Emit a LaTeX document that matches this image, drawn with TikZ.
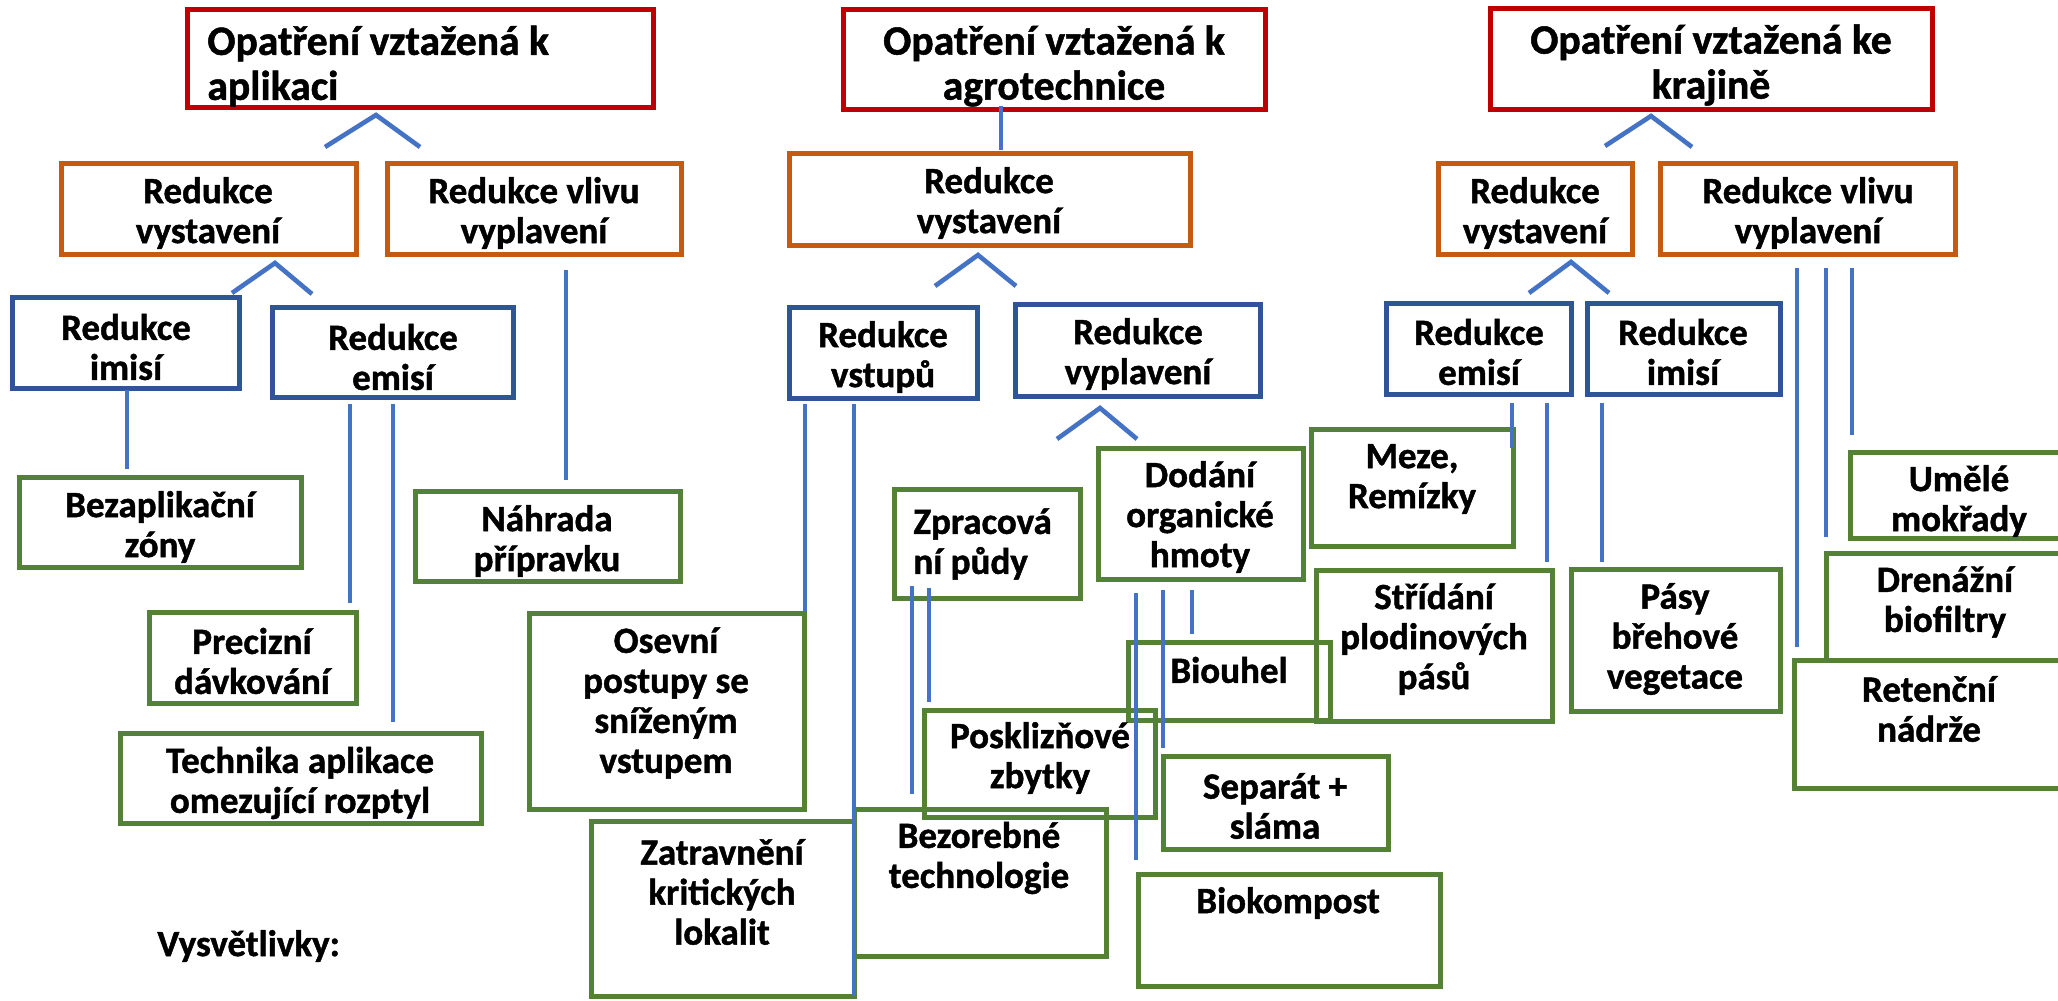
\documentclass[tikz,border=0pt]{standalone}
\usepackage{fontspec}
\setmainfont{Carlito}[BoldFeatures={FakeBold=1.2}]
\usetikzlibrary{fit}
\definecolor{cred}{HTML}{C00000}
\definecolor{corange}{HTML}{C55A11}
\definecolor{cblue}{HTML}{2F5597}
\definecolor{cline}{HTML}{4472C4}
\definecolor{cgreen}{HTML}{538135}
\begin{document}
\begin{tikzpicture}[x=0.5pt,y=-0.5pt,
  redbox/.style={draw=cred, line width=2.5pt, inner sep=0pt},
  orbox/.style={draw=corange, line width=2.5pt, inner sep=0pt},
  blbox/.style={draw=cblue, line width=2.5pt, inner sep=0pt},
  grbox/.style={draw=cgreen, line width=2.5pt, inner sep=0pt},
  txt/.style={align=center, font=\bfseries\fontsize{18.5}{20}\selectfont, inner sep=0pt},
  ttl/.style={align=center, font=\bfseries\fontsize{20.8}{22.5}\selectfont, inner sep=0pt},
  conn/.style={draw=cline, line width=2.3pt}]
\fill[white] (0,0) rectangle (2058,1001);
\useasboundingbox (0,0) rectangle (2058,1001);
\clip (0,0) rectangle (2058,1001);

% red boxes
\node[redbox, fit={(187,9) (653,107)}] (r1) {};
\node[redbox, fit={(843,9) (1265,109)}] (r2) {};
\node[redbox, fit={(1490,8) (1932,109)}] (r3) {};
\node[ttl, anchor=west, align=left] (r1t) at (207,66) {Opatření vztažená k\\aplikaci};
\node[ttl] (r2t) at (1054,66) {Opatření vztažená k\\agrotechnice};
\node[ttl] (r3t) at (1711,65) {Opatření vztažená ke\\krajině};

% orange boxes
\node[orbox, fit={(61,163) (356,254)}] (o1) {};
\node[orbox, fit={(387,163) (681,254)}] (o2) {};
\node[orbox, fit={(789,153) (1190,245)}] (o3) {};
\node[orbox, fit={(1438,163) (1632,254)}] (o4) {};
\node[orbox, fit={(1660,163) (1955,254)}] (o5) {};
\node[txt] (o1t) at (208,213) {Redukce\\vystavení};
\node[txt] (o2t) at (534,213) {Redukce vlivu\\vyplavení};
\node[txt] (o3t) at (989,203) {Redukce\\vystavení};
\node[txt] (o4t) at (1535,213) {Redukce\\vystavení};
\node[txt] (o5t) at (1808,213) {Redukce vlivu\\vyplavení};

% blue boxes
\node[blbox, fit={(12,297) (239,388)}] (b1) {};
\node[blbox, fit={(272,307) (513,397)}] (b2) {};
\node[blbox, fit={(789,307) (977,398)}] (b3) {};
\node[blbox, fit={(1015,304) (1260,396)}] (b4) {};
\node[blbox, fit={(1386,303) (1571,394)}] (b5) {};
\node[blbox, fit={(1587,303) (1780,394)}] (b6) {};
\node[txt] (b1t) at (126,347) {Redukce\\imisí};
\node[txt] (b2t) at (393,357) {Redukce\\emisí};
\node[txt] (b3t) at (883,357) {Redukce\\vstupů};
\node[txt] (b4t) at (1138,354) {Redukce\\vyplavení};
\node[txt] (b5t) at (1479,352) {Redukce\\emisí};
\node[txt] (b6t) at (1683,352) {Redukce\\imisí};

% green boxes
\node[grbox, fit={(19,477) (301,567)}] (bez) {};
\node[grbox, fit={(149,612) (356,703)}] (prec) {};
\node[grbox, fit={(120,733) (481,823)}] (tech) {};
\node[grbox, fit={(415,491) (680,581)}] (nah) {};
\node[grbox, fit={(529,613) (804,809)}] (osev) {};
\node[grbox, fit={(591,821) (854,996)}] (zatr) {};
\node[grbox, fit={(854,809) (1106,956)}] (bezor) {};
\node[grbox, fit={(894,489) (1080,598)}] (zprac) {};
\node[grbox, fit={(924,710) (1155,817)}] (posk) {};
\node[grbox, fit={(1098,448) (1303,579)}] (dod) {};
\node[grbox, fit={(1128,642) (1330,720)}] (biou) {};
\node[grbox, fit={(1163,756) (1388,849)}] (sep) {};
\node[grbox, fit={(1138,874) (1440,986)}] (biok) {};
\node[grbox, fit={(1311,429) (1513,546)}] (meze) {};
\node[grbox, fit={(1316,570) (1552,721)}] (strid) {};
\node[grbox, fit={(1571,569) (1780,711)}] (pasy) {};
\node[grbox, fit={(1850,452) (2068,538)}] (umele) {};
\node[grbox, fit={(1826,553) (2064,660)}] (dren) {};
\node[grbox, fit={(1794,660) (2064,788)}] (ret) {};

\node[txt] (bezt) at (160,527) {Bezaplikační\\zóny};
\node[txt] (prect) at (252,661) {Precizní\\dávkování};
\node[txt] (techt) at (300,783) {Technika aplikace\\omezující rozptyl};
\node[txt] (naht) at (547,541) {Náhrada\\přípravku};
\node[txt] (osevt) at (666,703) {Osevní\\postupy se\\sníženým\\vstupem};
\node[txt] (zatrt) at (722,892) {Zatravnění\\kritických\\lokalit};
\node[txt, anchor=west] (vys) at (157,946) {Vysvětlivky:};
\node[txt, anchor=west, align=left] (zpract) at (913,544) {Zpracová\\ní půdy};
\node[txt] (dodt) at (1200,517) {Dodání\\organické\\hmoty};
\node[txt] (biout) at (1229,670) {Biouhel};
\node[txt] (poskt) at (1040,758) {Posklizňové\\zbytky};
\node[txt] (bezort) at (979,858) {Bezorebné\\technologie};
\node[txt] (sept) at (1275,806) {Separát +\\sláma};
\node[txt] (biokt) at (1288,903) {Biokompost};
\node[txt] (mezet) at (1412,479) {Meze,\\Remízky};
\node[txt] (stridt) at (1434,639) {Střídání\\plodinových\\pásů};
\node[txt] (pasyt) at (1675,639) {Pásy\\břehové\\vegetace};
\node[txt] (umelet) at (1959,501) {Umělé\\mokřady};
\node[txt] (drent) at (1945,602) {Drenážní\\biofiltry};
\node[txt] (rett) at (1929,709) {Retenční\\nádrže};

% carets
\coordinate (k1a) at (325,147); \coordinate (k1b) at (376,115); \coordinate (k1c) at (420,147);
\coordinate (k2a) at (232,293); \coordinate (k2b) at (275,263); \coordinate (k2c) at (312,294);
\coordinate (k3a) at (935,286); \coordinate (k3b) at (978,255); \coordinate (k3c) at (1016,286);
\coordinate (k4a) at (1057,439); \coordinate (k4b) at (1100,408); \coordinate (k4c) at (1137,439);
\coordinate (k5a) at (1605,146); \coordinate (k5b) at (1651,116); \coordinate (k5c) at (1692,147);
\coordinate (k6a) at (1529,293); \coordinate (k6b) at (1571,262); \coordinate (k6c) at (1609,293);
\draw[conn] (k1a) -- (k1b) -- (k1c);
\draw[conn] (k2a) -- (k2b) -- (k2c);
\draw[conn] (k3a) -- (k3b) -- (k3c);
\draw[conn] (k4a) -- (k4b) -- (k4c);
\draw[conn] (k5a) -- (k5b) -- (k5c);
\draw[conn] (k6a) -- (k6b) -- (k6c);

% vertical connectors
\coordinate (v0a) at (1001,106); \coordinate (v0b) at (1001,150);
\coordinate (v1a) at (127,390); \coordinate (v1b) at (127,469);
\coordinate (v2a) at (350,404); \coordinate (v2b) at (350,603);
\coordinate (v3a) at (393,404); \coordinate (v3b) at (393,722);
\coordinate (v4a) at (566,270); \coordinate (v4b) at (566,480);
\coordinate (v5a) at (805,404); \coordinate (v5b) at (805,611);
\coordinate (v6a) at (854,404); \coordinate (v6b) at (854,996);
\coordinate (v7a) at (912,586); \coordinate (v7b) at (912,794);
\coordinate (v8a) at (929,588); \coordinate (v8b) at (929,702);
\coordinate (v9a) at (1136,593); \coordinate (v9b) at (1136,860);
\coordinate (v10a) at (1163,590); \coordinate (v10b) at (1163,748);
\coordinate (v11a) at (1192,590); \coordinate (v11b) at (1192,634);
\coordinate (v12a) at (1512,403); \coordinate (v12b) at (1512,448);
\coordinate (v13a) at (1547,403); \coordinate (v13b) at (1547,562);
\coordinate (v14a) at (1602,403); \coordinate (v14b) at (1602,562);
\coordinate (v15a) at (1797,268); \coordinate (v15b) at (1797,647);
\coordinate (v16a) at (1826,268); \coordinate (v16b) at (1826,537);
\coordinate (v17a) at (1852,268); \coordinate (v17b) at (1852,435);
\foreach \i in {0,...,17} {\draw[conn] (v\i a) -- (v\i b);}
\end{tikzpicture}
\end{document}
